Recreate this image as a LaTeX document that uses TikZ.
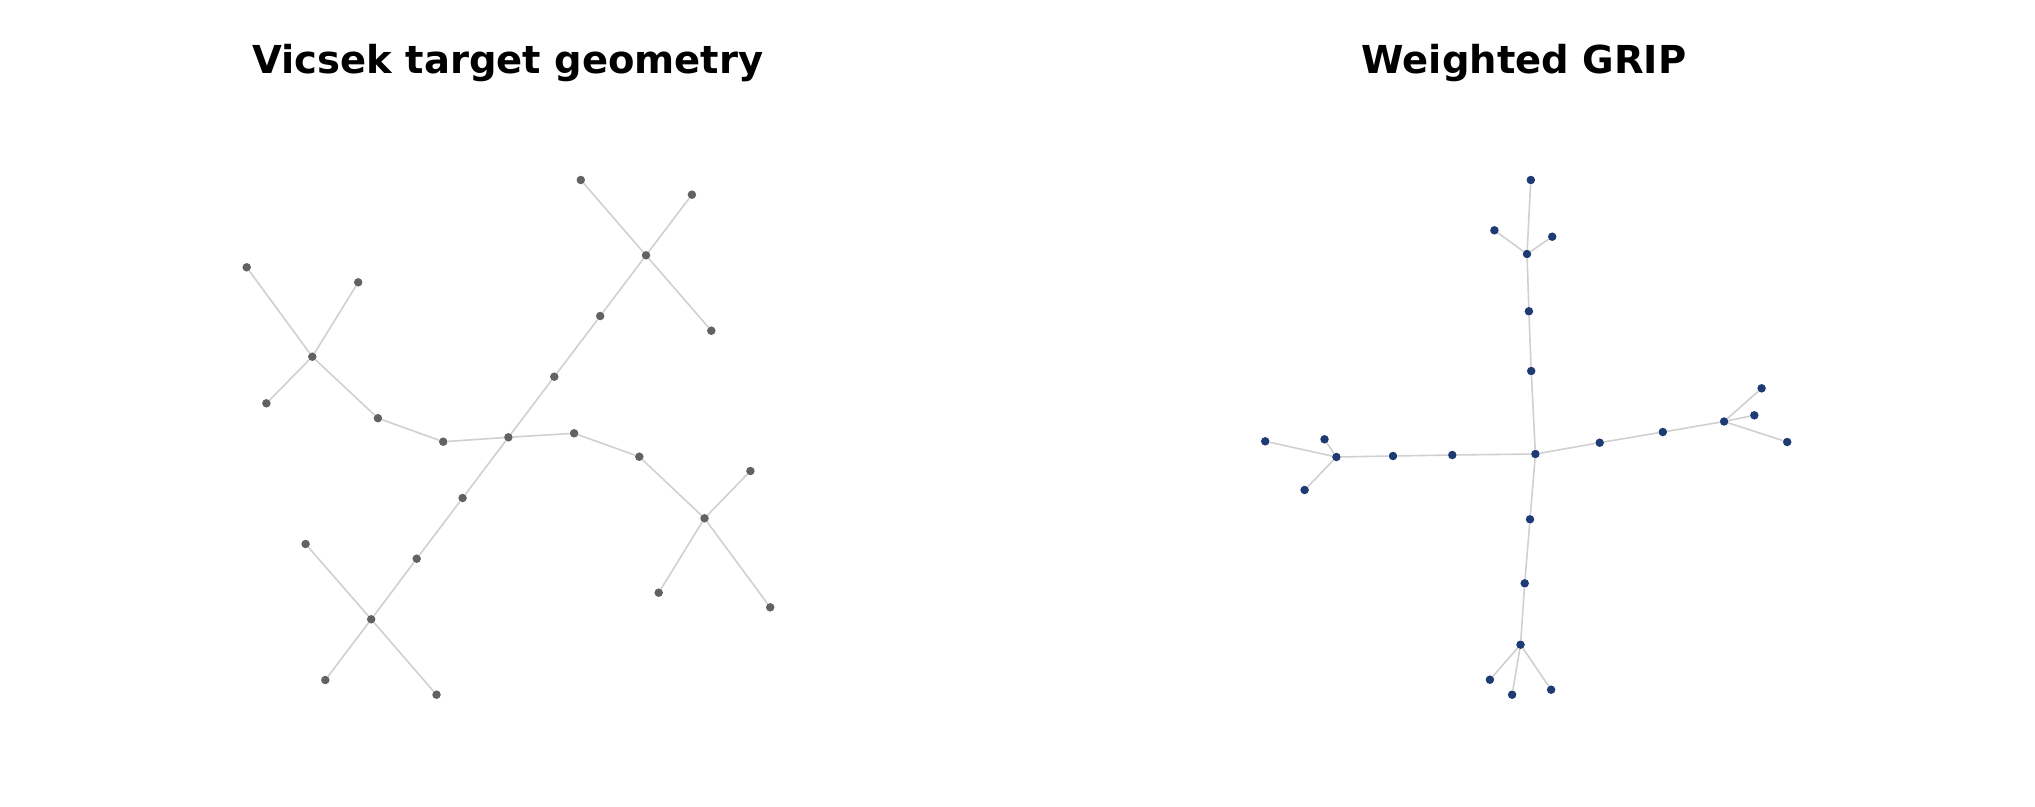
\documentclass[tikz,border=0pt]{standalone}
\usepackage{fontspec}
\setmainfont{DejaVu Sans}
\definecolor{dotgray}{HTML}{626262}
\definecolor{dotnavy}{HTML}{1F3B73}
\definecolor{edgegray}{HTML}{D0D0D0}
\tikzset{
  gdot/.style={circle, fill=dotgray, inner sep=0pt, minimum size=8.5pt},
  ndot/.style={circle, fill=dotnavy, inner sep=0pt, minimum size=8.5pt},
  edge/.style={draw=edgegray, line width=1.6pt},
  ttl/.style={font=\bfseries\fontsize{38.5}{42}\selectfont, anchor=base}
}
\begin{document}
\begin{tikzpicture}[x=1pt, y=-1pt]
\useasboundingbox (0,0) rectangle (2035,806);
% titles
\node[ttl] (tleft) at (508,73) {Vicsek target geometry};
\node[ttl] (tright) at (1524,73) {Weighted GRIP};
% left panel
\node[gdot] (c) at (508.4,437.3) {};
\node[gdot] (a5) at (554.3,376.7) {};
\node[gdot] (a4) at (600.2,316) {};
\node[gdot] (ah) at (646,255.3) {};
\node[gdot] (a1) at (580.8,180) {};
\node[gdot] (a2) at (691.9,194.7) {};
\node[gdot] (a3) at (711.3,330.7) {};
\node[gdot] (l5) at (443.2,441.7) {};
\node[gdot] (l4) at (377.9,418.2) {};
\node[gdot] (lh) at (312.3,356.7) {};
\node[gdot] (l1) at (246.7,267.3) {};
\node[gdot] (l2) at (358.2,282.3) {};
\node[gdot] (l3) at (266.4,403.3) {};
\node[gdot] (r1) at (574.1,433.3) {};
\node[gdot] (r2) at (639.3,456.7) {};
\node[gdot] (rh) at (704.5,518.3) {};
\node[gdot] (r3) at (750.4,471) {};
\node[gdot] (r4) at (658.7,592.7) {};
\node[gdot] (r5) at (770.2,607.3) {};
\node[gdot] (d1) at (462.6,498) {};
\node[gdot] (d2) at (416.7,558.7) {};
\node[gdot] (dh) at (371.2,619.3) {};
\node[gdot] (d3) at (305.6,544) {};
\node[gdot] (d4) at (325.3,680) {};
\node[gdot] (d5) at (436.5,694.7) {};
\foreach \p/\q in {c/a5, a5/a4, a4/ah, ah/a1, ah/a2, ah/a3,
                   c/l5, l5/l4, l4/lh, lh/l1, lh/l2, lh/l3,
                   c/r1, r1/r2, r2/rh, rh/r3, rh/r4, rh/r5,
                   c/d1, d1/d2, d2/dh, dh/d3, dh/d4, dh/d5}
  \draw[edge] (\p) -- (\q);
% right panel
\node[ndot] (g) at (1535.4,454) {};
\node[ndot] (t3) at (1531.2,371) {};
\node[ndot] (t2) at (1528.9,311.3) {};
\node[ndot] (th) at (1527,254) {};
\node[ndot] (t1) at (1530.8,180) {};
\node[ndot] (tl) at (1494.4,230.3) {};
\node[ndot] (tr) at (1552.2,236.7) {};
\node[ndot] (e1) at (1599.7,442.7) {};
\node[ndot] (e2) at (1662.8,432) {};
\node[ndot] (eh) at (1724.1,421.5) {};
\node[ndot] (ea) at (1761.6,388.3) {};
\node[ndot] (eb) at (1754.3,415.3) {};
\node[ndot] (ec) at (1787.2,442) {};
\node[ndot] (w1) at (1452.3,455) {};
\node[ndot] (w2) at (1393,456) {};
\node[ndot] (wh) at (1336.4,457) {};
\node[ndot] (wa) at (1265.2,441.3) {};
\node[ndot] (wb) at (1324.5,439.3) {};
\node[ndot] (wc) at (1304.6,490) {};
\node[ndot] (s1) at (1530,519.3) {};
\node[ndot] (s2) at (1524.7,583.3) {};
\node[ndot] (sh) at (1520.5,644.7) {};
\node[ndot] (sa) at (1489.9,679.7) {};
\node[ndot] (sb) at (1512.1,694.7) {};
\node[ndot] (sc) at (1551.1,689.7) {};
\foreach \p/\q in {g/t3, t3/t2, t2/th, th/t1, th/tl, th/tr,
                   g/e1, e1/e2, e2/eh, eh/ea, eh/eb, eh/ec,
                   g/w1, w1/w2, w2/wh, wh/wa, wh/wb, wh/wc,
                   g/s1, s1/s2, s2/sh, sh/sa, sh/sb, sh/sc}
  \draw[edge] (\p) -- (\q);
\end{tikzpicture}
\end{document}
